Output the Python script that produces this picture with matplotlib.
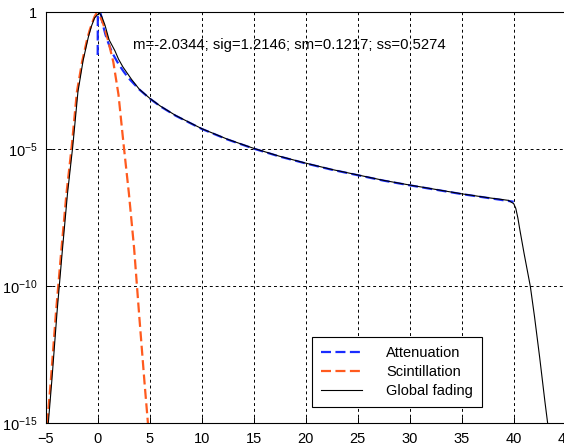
import numpy as np
import matplotlib
matplotlib.use("Agg")
import matplotlib.pyplot as plt

plt.rcParams['font.family'] = ['Liberation Sans', 'DejaVu Sans']
plt.rcParams['mathtext.fontset'] = 'custom'
plt.rcParams['mathtext.rm'] = 'Liberation Sans'
plt.rcParams['mathtext.default'] = 'regular'

# values (log10 of the pdf)
scint_x = [-4.85, -4.5, -4.0, -3.5, -3.0, -2.5, -2.0, -1.5, -1.0, -0.75, -0.5, -0.3,
           -0.15, 0.0, 0.2, 0.35, 0.5, 0.75, 1.0, 1.5, 2.0, 2.5, 3.0, 3.5, 4.0, 4.5, 4.9]
scint_log = [-15.0, -13.4, -10.9, -8.7, -6.6, -4.9, -2.9, -1.8, -0.95, -0.62, -0.35, -0.15,
             -0.05, -0.06, -0.12, -0.25, -0.38, -0.68, -1.02, -1.8, -3.0, -4.85, -6.6, -8.6,
             -11.1, -13.5, -15.3]

att_x = [0.0, 0.02, 0.05, 0.1, 0.2, 0.3, 0.5, 0.75, 1.0, 1.25, 1.5, 2.0, 2.5, 3.0, 4.0,
         5.0, 6.0, 7.5, 10, 12.5, 15, 17.5, 20, 22.5, 25, 27.5, 30, 32.5, 35, 37.5, 40]
att_log = [-1.55, 0.7, 0.65, 0.5, 0.19, -0.06, -0.45, -0.81, -1.09, -1.33, -1.54, -1.88,
           -2.16, -2.41, -2.81, -3.14, -3.42, -3.77, -4.25, -4.64, -4.97, -5.26, -5.51,
           -5.74, -5.94, -6.14, -6.31, -6.47, -6.63, -6.77, -6.91]

glob_x = [-4.75, -4.4, -3.9, -3.4, -2.9, -2.4, -1.9, -1.4, -0.9, -0.6, -0.3, 0.0, 0.2,
          0.4, 0.7, 1.1, 1.66, 2.0, 2.43, 3.27, 4.0, 5.0, 6.0, 7.5, 10, 12.5, 15, 17.5,
          20, 22.5, 25, 27.5, 30, 32.5, 35, 37.5, 39.5, 40.0, 40.2, 40.4, 40.6, 41.0,
          41.6, 42.0, 42.5, 43.0, 43.4]
glob_log = [-15.0, -13.4, -10.9, -8.7, -6.6, -4.9, -2.9, -1.75, -0.9, -0.5, -0.2, -0.07,
            -0.03, -0.15, -0.46, -1.0, -1.4, -1.7, -1.99, -2.45, -2.8, -3.13, -3.41, -3.76,
            -4.24, -4.63, -4.96, -5.25, -5.5, -5.73, -5.93, -6.13, -6.3, -6.46, -6.62,
            -6.76, -6.86, -6.98, -7.15, -7.5, -7.95, -8.8, -10.0, -11.1, -12.6, -14.2, -15.4]

labels = ['Attenuation', 'Scintillation', 'Global fading']
note = 'm=-2.0344; sig=1.2146; sm=0.1217; ss=0.5274'

xticks = [-5, 0, 5, 10, 15, 20, 25, 30, 35, 40, 45]
yticks = [1e-15, 1e-10, 1e-5, 1]
ytick_labels = ['$10^{-15}$', '$10^{-10}$', '$10^{-5}$', '1']

fig = plt.figure(figsize=(5.64, 4.48), dpi=100)
ax = fig.add_axes([0.081, 0.0551, 0.922, 0.917])

ax.semilogy(att_x, 10.0 ** np.array(att_log), color='#1a2cff', lw=1.6,
            dashes=(4.5, 2), label=labels[0])
ax.semilogy(scint_x, 10.0 ** np.array(scint_log), color='#ff5a1e', lw=1.6,
            dashes=(4.5, 2), label=labels[1])
ax.semilogy(glob_x, 10.0 ** np.array(glob_log), color='black', lw=0.8,
            label=labels[2])

ax.set_xlim(-5, 45)
ax.set_ylim(1e-15, 1)
ax.set_xticks(xticks)
ax.set_yticks(yticks)
ax.set_yticklabels(ytick_labels)
ax.yaxis.set_minor_locator(matplotlib.ticker.NullLocator())
ax.tick_params(direction='in', length=4, width=0.7, labelsize=10.5, pad=6)
ax.grid(True, color='black', linestyle=(0, (3, 3)), linewidth=0.7)
for s in ax.spines.values():
    s.set_linewidth(0.8)

ax.text(3.4, 10 ** -1.19, note, fontsize=10.7, va='center', ha='left')

leg = ax.legend(loc='lower left', bbox_to_anchor=(312 / 564, 1 - 407 / 448),
                bbox_transform=fig.transFigure, fancybox=False, edgecolor='black',
                framealpha=1, fontsize=10.5, handlelength=2.8, handletextpad=1.7,
                labelspacing=0.35, borderpad=0.6, borderaxespad=0)
leg.get_frame().set_linewidth(0.8)

fig.savefig('out.png', dpi=100)
